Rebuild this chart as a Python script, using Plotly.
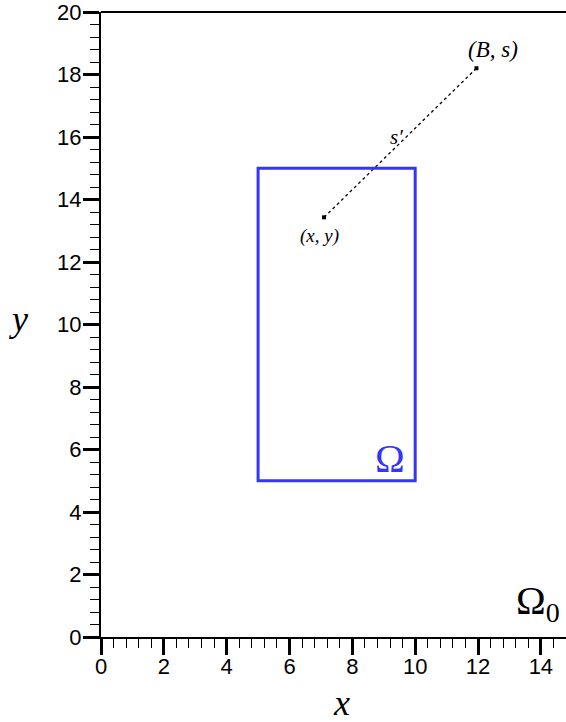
import plotly.graph_objects as go

# Data
rect_x = [5, 10]
rect_y = [5, 15]
point_xy = [7.1, 13.43]
point_Bs = [11.95, 18.2]
x_ticks = [0, 2, 4, 6, 8, 10, 12, 14]
y_ticks = [0, 2, 4, 6, 8, 10, 12, 14, 16, 18, 20]
x_range = [0, 14.8]
y_range = [0, 20.0001]

BLUE = "#3535F5"
SERIF = "Liberation Serif, Times New Roman, serif"
SANS = "Liberation Sans, Arial, sans-serif"

fig = go.Figure()

# Dotted line between (x, y) and (B, s)
fig.add_trace(go.Scatter(
    x=[point_xy[0], point_Bs[0]], y=[point_xy[1], point_Bs[1]],
    mode="lines+markers",
    line=dict(color="black", width=1.3, dash="dot"),
    marker=dict(symbol="square", size=4, color="black"),
    showlegend=False, hoverinfo="skip",
))

# Rectangle Omega
fig.add_shape(type="rect", x0=rect_x[0], x1=rect_x[1], y0=rect_y[0], y1=rect_y[1],
              line=dict(color=BLUE, width=3), xref="x", yref="y")

# Top border line
fig.add_shape(type="line", x0=0, x1=1, y0=1, y1=1,
              xref="paper", yref="paper", line=dict(color="black", width=2))

ann = [
    dict(x=12.47, y=18.79, text="<i>(B, s)</i>", size=23, color="black"),
    dict(x=9.39, y=16.01, text="<i>s′</i>", size=21, color="black"),
    dict(x=6.97, y=12.82, text="<i>(x, y)</i>", size=19, color="black"),
    dict(x=9.19, y=5.71, text="Ω", size=40, color=BLUE),
    dict(x=13.9, y=1.08, text="Ω<sub>0</sub>", size=40, color="black"),
]
for a in ann:
    fig.add_annotation(x=a["x"], y=a["y"], xref="x", yref="y", text=a["text"],
                       showarrow=False, xanchor="center", yanchor="middle",
                       font=dict(family=SERIF, size=a["size"], color=a["color"]))

# Axis titles
fig.add_annotation(x=7.64, y=-0.105, xref="x", yref="paper", text="<i>x</i>", showarrow=False,
                   xanchor="center", yanchor="middle",
                   font=dict(family=SERIF, size=36, color="black"))
fig.add_annotation(x=-0.178, y=10.18, xref="paper", yref="y", text="<i>y</i>", showarrow=False,
                   xanchor="center", yanchor="middle",
                   font=dict(family=SERIF, size=36, color="black"))

axis_common = dict(
    showgrid=False, zeroline=False, showline=True, linecolor="black", linewidth=2,
    ticks="outside", ticklen=16, tickwidth=2.5, tickcolor="black",
    tickfont=dict(family=SANS, size=22, color="black"),
    ticklabeloverflow="allow",
    minor=dict(ticks="outside", ticklen=9, tickwidth=1.2, tickcolor="black", dtick=0.4, showgrid=False),
)

fig.update_xaxes(range=x_range, tickmode="array", tickvals=x_ticks,
                 ticktext=[str(v) for v in x_ticks], ticklabelstandoff=-7, **axis_common)
fig.update_yaxes(range=y_range, tickmode="array", tickvals=y_ticks,
                 ticktext=[str(v) for v in y_ticks], ticklabelstandoff=-3, **axis_common)

fig.update_layout(
    width=566, height=722,
    margin=dict(l=101, r=0, t=10, b=85),
    plot_bgcolor="white", paper_bgcolor="white",
)

fig.write_html("out.html")
